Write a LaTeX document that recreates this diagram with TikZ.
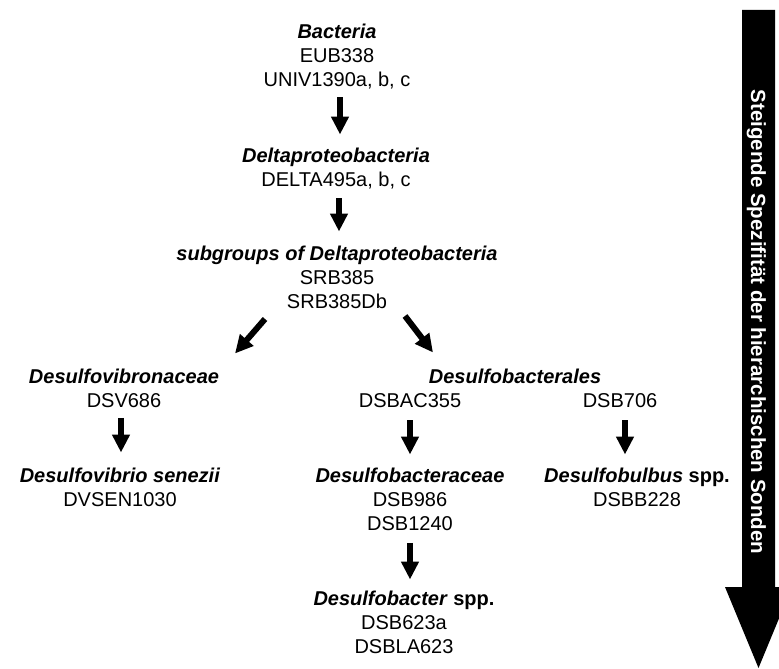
\documentclass[tikz,border=0pt]{standalone}
\usepackage{fontspec}
\setmainfont{Liberation Sans}
\usetikzlibrary{arrows.meta}
\newcommand{\taxon}[1]{\textbf{\textit{#1}}}

\begin{document}
\begin{tikzpicture}[x=1pt,y=-1pt]
		\tikzstyle{probe}=[align=center,anchor=north,inner sep=0pt,font=\fontsize{20}{24.2}\selectfont];
		\tikzstyle{probearrow}=[line width=6pt,-{Triangle[width=17pt,length=18pt]},
			shorten <=10pt,shorten >=13pt];
		\clip(0,0)rectangle(779,669);

		\node[probe](bac)at(337,23.5){\taxon{Bacteria}\\EUB338\\UNIV1390a, b, c};
		\node[probe](delta)at(336,147.5){\taxon{Deltaproteobacteria}\\DELTA495a, b, c};
		\node[probe](sub)at(337,245.5){\taxon{subgroups of Deltaproteobacteria}\\SRB385\\SRB385Db};

		\node[probe](dsv)at(124,368.5){\taxon{Desulfovibronaceae}\\DSV686};
		\node[probe](dvsen)at(120,467.5){\taxon{Desulfovibrio senezii}\\DVSEN1030};

		\node[probe](dsbales)at(515,368.5){\taxon{Desulfobacterales}};
		\node[probe](dsbac)at(410,393.5){DSBAC355};
		\node[probe](dsb706)at(620,393.5){DSB706};
		\node[probe](dsbceae)at(410,467.5){\taxon{Desulfobacteraceae}\\DSB986\\DSB1240};
		\node[probe](dsbter)at(404,590.5){\taxon{Desulfobacter} \textbf{spp.}\\DSB623a\\DSBLA623};
		\node[probe](dsbulb)at(637,467.5){\taxon{Desulfobulbus} \textbf{spp.}\\DSBB228};

		\draw[probearrow,shorten <=8pt]([xshift=3pt]bac.south)--([xshift=3pt]bac.south|-delta.north);
		\draw[probearrow,shorten <=9pt,shorten >=14pt]([xshift=3pt]delta.south)--([xshift=3pt]delta.south|-sub.north);
		\draw[probearrow,shorten <=0pt,shorten >=0pt]([shift={(-72,10)}]sub.south)--([shift={(111,-15)}]dsv.north);
		\draw[probearrow,shorten <=0pt,shorten >=0pt]([shift={(68,7)}]sub.south)--([shift={(-82,-16)}]dsbales.north);
		\draw[probearrow,shorten >=15pt]([xshift=-3pt]dsv.south)--([xshift=-3pt]dsv.south|-dvsen.north);
		\draw[probearrow,shorten <=12pt](dsbac.south)--(dsbac.south|-dsbceae.north);
		\draw[probearrow,shorten <=12pt]([xshift=5pt]dsb706.south)--([xshift=5pt]dsb706.south|-dsbulb.north);
		\draw[probearrow,shorten <=12pt,shorten >=11pt](dsbceae.south)--(dsbceae.south|-dsbter.north);

		\fill(742,10)--(775,10)--(775,587)--(792,587)--(758.5,668)--(725,587)--(742,587)--cycle;
		\node[rotate=-90,anchor=base,inner sep=0pt,text=white,font=\bfseries\fontsize{20.5}{24}\selectfont](spec)
			at(751,322){Steigende Spezifität der hierarchischen Sonden};
	\end{tikzpicture}
\end{document}
